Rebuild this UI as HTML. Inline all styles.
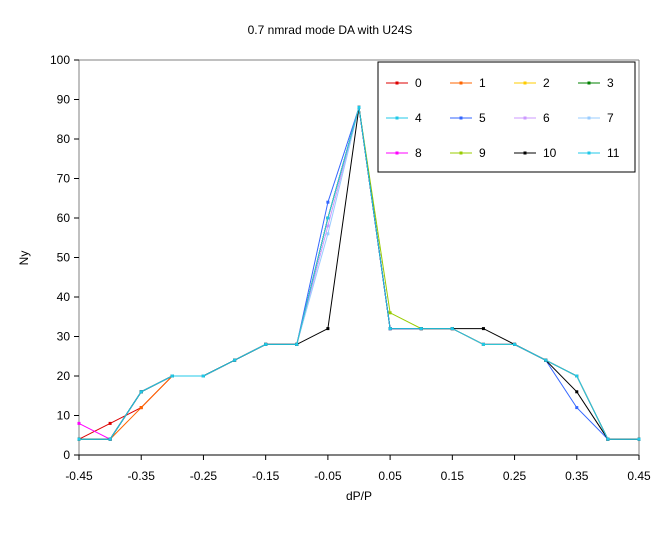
<!DOCTYPE html>
<html><head><meta charset="utf-8"><style>
body{margin:0;background:#fff;font-family:"Liberation Sans",sans-serif}
text{font-family:"Liberation Sans",sans-serif;font-size:12px;fill:#000}
</style></head><body>
<svg width="660" height="531" xmlns="http://www.w3.org/2000/svg">
<g id="root"></g>
</svg>
<script>
const xValues=[-0.45,-0.4,-0.35,-0.3,-0.25,-0.2,-0.15,-0.1,-0.05,0,0.05,0.1,0.15,0.2,0.25,0.3,0.35,0.4,0.45];
const seriesNames=["0","1","2","3","4","5","6","7","8","9","10","11"];
const seriesColors=["#dd0000","#ff6600","#ffcc00","#008000","#20c8e8","#3366ff","#cc99ff","#99ccff","#ff00ff","#99cc00","#000000","#20c8e8"];
const s0=[4,8,12,20,20,24,28,28,60,88,32,32,32,28,28,24,20,4,4];
const s1=[4,4,12,20,20,24,28,28,60,88,32,32,32,28,28,24,20,4,4];
const s2=[4,4,16,20,20,24,28,28,60,88,32,32,32,28,28,24,20,4,4];
const s3=[4,4,16,20,20,24,28,28,60,88,32,32,32,28,28,24,20,4,4];
const s4=[4,4,16,20,20,24,28,28,60,88,32,32,32,28,28,24,20,4,4];
const s5=[4,4,16,20,20,24,28,28,64,88,32,32,32,28,28,24,12,4,4];
const s6=[4,4,16,20,20,24,28,28,58,88,32,32,32,28,28,24,20,4,4];
const s7=[4,4,16,20,20,24,28,28,56,88,32,32,32,28,28,24,20,4,4];
const s8=[8,4,16,20,20,24,28,28,60,88,32,32,32,28,28,24,20,4,4];
const s9=[4,4,16,20,20,24,28,28,60,88,36,32,32,28,28,24,20,4,4];
const s10=[4,4,16,20,20,24,28,28,32,88,32,32,32,32,28,24,16,4,4];
const s11=[4,4,16,20,20,24,28,28,60,88,32,32,32,28,28,24,20,4,4];
const seriesValues=[s0,s1,s2,s3,s4,s5,s6,s7,s8,s9,s10,s11];
const xTicks=[-0.45,-0.35,-0.25,-0.15,-0.05,0.05,0.15,0.25,0.35,0.45];
const yTicks=[0,10,20,30,40,50,60,70,80,90,100];

const NS="http://www.w3.org/2000/svg";
const root=document.getElementById('root');
const X0=79,X1=639,Y0=455,Y1=60;
const xs=v=>X0+(v+0.45)/0.9*(X1-X0);
const ys=v=>Y0-v/100*(Y0-Y1);
function mk(tag,attrs,parent){const e=document.createElementNS(NS,tag);for(const k in attrs)e.setAttribute(k,attrs[k]);(parent||root).appendChild(e);return e;}

let t=mk('text',{x:330,y:34,'text-anchor':'middle'});


t.textContent='0.7 nmrad mode DA with U24S';
let ax=mk('line',{x1:X0,y1:Y1,x2:X0,y2:Y0,stroke:'#808080'});


let bx=mk('line',{x1:X0,y1:Y0,x2:X1,y2:Y0,stroke:'#000'});


let rb=mk('line',{x1:X1,y1:Y1,x2:X1,y2:Y0,stroke:'#808080'});


let tb=mk('line',{x1:X0,y1:Y1,x2:X1,y2:Y1,stroke:'#808080'});


yTicks.forEach(v=>{
  mk('line',{x1:X0-5,y1:ys(v),x2:X0,y2:ys(v),stroke:'#000'});
  const e=mk('text',{x:X0-9,y:ys(v)+4,'text-anchor':'end'});
  
  
  e.textContent=v;
});
xTicks.forEach(v=>{
  mk('line',{x1:xs(v),y1:Y0,x2:xs(v),y2:Y0+5,stroke:'#000'});
  const e=mk('text',{x:xs(v),y:Y0+25,'text-anchor':'middle'});
  
  
  e.textContent=v.toFixed(2);
});
let xt=mk('text',{x:359,y:500,'text-anchor':'middle'});


xt.textContent='dP/P';
let yt=mk('text',{x:28,y:258,'text-anchor':'middle',transform:'rotate(-90 28 258)'});


yt.textContent='Ny';

seriesValues.forEach((arr,i)=>{
  const g=mk('g',{});
  
  
  const pts=arr.map((v,j)=>xs(xValues[j]).toFixed(1)+','+ys(v).toFixed(1)).join(' ');
  mk('polyline',{points:pts,fill:'none',stroke:seriesColors[i],'stroke-width':1},g);
  arr.forEach((v,j)=>{mk('rect',{x:xs(xValues[j])-1.5,y:ys(v)-1.5,width:3,height:3,fill:seriesColors[i]},g);});
});

const lg=mk('g',{});


mk('rect',{x:378,y:62,width:257,height:110,fill:'#fff',stroke:'#000'},lg);
seriesNames.forEach((n,i)=>{
  const c=i%4,r=Math.floor(i/4);
  const lx=386+c*64,ly=83+r*35;
  const e=mk('g',{},lg);
  
  
  mk('line',{x1:lx,y1:ly,x2:lx+22,y2:ly,stroke:seriesColors[i]},e);
  mk('rect',{x:lx+9.5,y:ly-1.5,width:3,height:3,fill:seriesColors[i]},e);
  const tx=mk('text',{x:lx+29,y:ly+4},e);
  tx.textContent=n;
});
</script>
</body></html>
